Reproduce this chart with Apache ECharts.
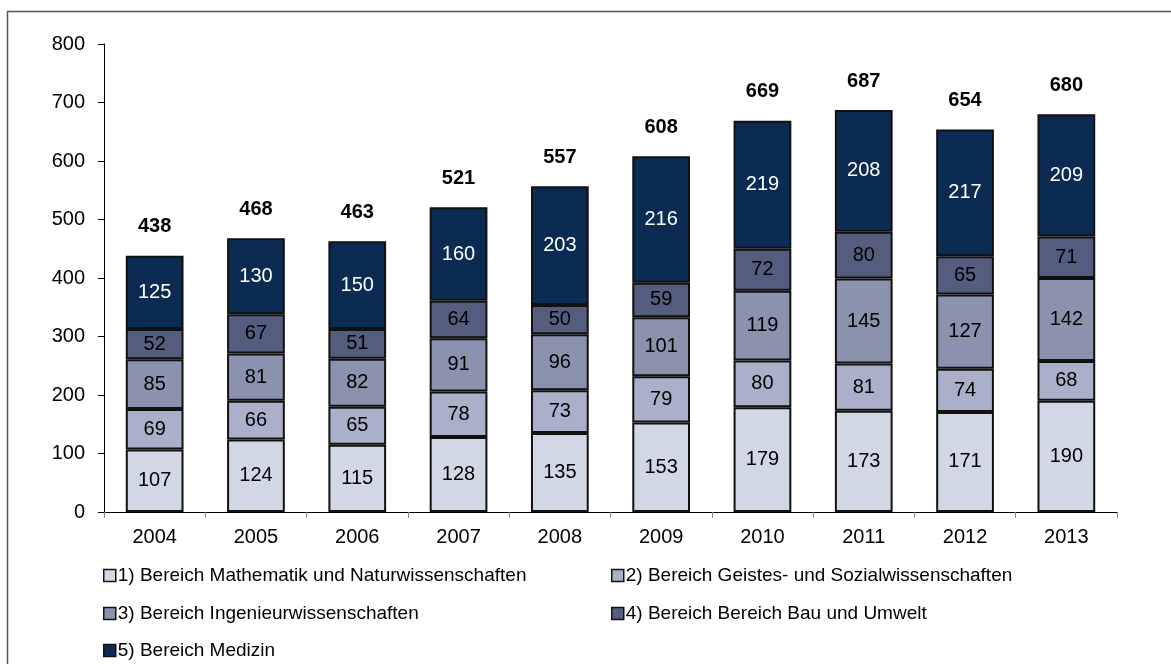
<!DOCTYPE html>
<html style="height: 100%">
<head>
  <meta charset="utf-8">
  <title>Bereiche 2004-2013</title>
</head>
<body style="height: 100%; margin: 0; background: #fff">
<div id="container" style="width: 1171px; height: 664px"></div>
<script type="text/javascript" src="https://cdn.jsdelivr.net/npm/echarts@6/dist/echarts.min.js"></script>
<script type="text/javascript">
  // Jahre
  let years = ['2004', '2005', '2006', '2007', '2008', '2009', '2010', '2011', '2012', '2013']

  // Werte je Bereich
  let mathNat = [107, 124, 115, 128, 135, 153, 179, 173, 171, 190]
  let geistSozial = [69, 66, 65, 78, 73, 79, 80, 81, 74, 68]
  let ingenieur = [85, 81, 82, 91, 96, 101, 119, 145, 127, 142]
  let bauUmwelt = [52, 67, 51, 64, 50, 59, 72, 80, 65, 71]
  let medizin = [125, 130, 150, 160, 203, 216, 219, 208, 217, 209]

  let names = [
    '1) Bereich Mathematik und Naturwissenschaften',
    '2) Bereich Geistes- und Sozialwissenschaften',
    '3) Bereich Ingenieurwissenschaften',
    '4) Bereich Bereich Bau und Umwelt',
    '5) Bereich Medizin'
  ]
  let colors = ['#d2d7e5', '#aab0c9', '#8a92ad', '#555d7e', '#0c2b53']
  let seriesData = [mathNat, geistSozial, ingenieur, bauUmwelt, medizin]

  // Summe pro Jahr
  let totals = years.map((y, i) => seriesData.reduce((s, arr) => s + arr[i], 0))

  let font = "'Liberation Sans', Arial, sans-serif"

  let series = seriesData.map((data, k) => ({
    name: names[k],
    type: 'bar',
    stack: 'all',
    barWidth: '57%',
    data: data,
    itemStyle: { color: colors[k], borderColor: '#111', borderWidth: 2 },
    label: {
      show: true,
      position: 'inside',
      fontFamily: font,
      fontSize: 20,
      color: k === 4 ? '#fff' : '#000'
    }
  }))

  // unsichtbare Serie für die Summen oben
  series.push({
    name: 'Summe',
    type: 'bar',
    stack: 'all',
    data: years.map(() => 0),
    itemStyle: { color: 'transparent' },
    label: {
      show: true,
      position: 'top',
      distance: 19,
      fontFamily: font,
      fontSize: 20,
      fontWeight: 'bold',
      color: '#000',
      formatter: p => totals[p.dataIndex]
    }
  })

  // Legende in zwei Spalten
  let legendPos = [[98, 561], [606, 561], [98, 599], [606, 599], [98, 636]]
  let legends = names.map((n, k) => ({
    data: [n],
    left: legendPos[k][0],
    top: legendPos[k][1],
    itemWidth: 12,
    itemHeight: 12,
    icon: 'rect',
    itemStyle: { borderColor: '#111', borderWidth: 1.5 },
    textStyle: { fontFamily: font, fontSize: 19, color: '#000', padding: [0, 0, 0, -3] },
    selectedMode: false
  }))

  let myChart = echarts.init(document.getElementById('container'))
  let option = {
    animation: false,
    backgroundColor: '#fff',
    grid: { left: 104, right: 54, top: 44, bottom: 152 },
    legend: legends,
    xAxis: {
      type: 'category',
      data: years,
      axisLine: { lineStyle: { color: '#000', width: 1 } },
      axisTick: { show: true, length: 6, lineStyle: { color: '#888' } },
      axisLabel: { fontFamily: font, fontSize: 20, color: '#000', margin: 15 }
    },
    yAxis: {
      type: 'value',
      min: 0,
      max: 800,
      interval: 100,
      splitLine: { show: false },
      axisLine: { show: true, lineStyle: { color: '#000', width: 1 } },
      axisTick: { show: true, length: 6, lineStyle: { color: '#000' } },
      axisLabel: { fontFamily: font, fontSize: 20, color: '#000', margin: 19 }
    },
    graphic: [{
      type: 'rect',
      shape: { x: 7.5, y: 11.5, width: 2000, height: 2000 },
      style: { fill: 'none', stroke: '#555', lineWidth: 1.5 },
      silent: true
    }],
    series: series
  }
  myChart.setOption(option, true)
</script>
</body>
</html>
